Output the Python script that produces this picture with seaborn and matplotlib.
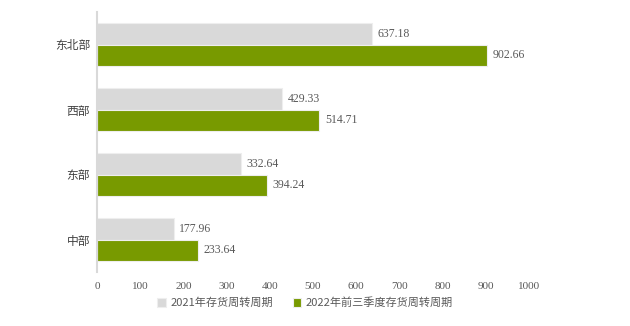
import matplotlib
matplotlib.use("Agg")
import matplotlib.pyplot as plt
import seaborn as sns
import pandas as pd

regions = ["东北部", "西部", "东部", "中部"]
series_names = ["2021年存货周转周期", "2022年前三季度存货周转周期"]
values_2021 = [637.18, 429.33, 332.64, 177.96]
values_2022q3 = [902.66, 514.71, 394.24, 233.64]
x_ticks = [0, 100, 200, 300, 400, 500, 600, 700, 800, 900, 1000]

df = pd.DataFrame({
    "region": regions * 2,
    "series": [series_names[0]] * 4 + [series_names[1]] * 4,
    "value": values_2021 + values_2022q3,
})

sns.set_theme(style="white")
plt.rcParams["font.family"] = ["Noto Sans CJK SC", "DejaVu Sans"]
serif = ["Liberation Serif", "DejaVu Serif"]

fig = plt.figure(figsize=(6.3, 3.26), dpi=100)
ax = fig.add_axes([97 / 630, 1 - 272 / 326, (529 - 97) / 630, (272 - 12) / 326])

palette = {series_names[0]: "#d9d9d9", series_names[1]: "#789a00"}
sns.barplot(data=df, y="region", x="value", hue="series", order=regions,
            hue_order=series_names, palette=palette, orient="h",
            width=0.67, saturation=1, ax=ax, legend=True,
            edgecolor="#eeeeee", linewidth=0.8)

for cont in ax.containers:
    ax.bar_label(cont, fmt="%.2f", padding=4, fontsize=8.5, color="#595959",
                 family=serif)

ax.set_xlim(0, 1000)
ax.set_ylim(3.5, -0.5)
ax.set_xticks(x_ticks)
ax.set_xticklabels([str(t) for t in x_ticks], fontsize=8, color="#595959",
                   family=serif)
ax.tick_params(axis="x", length=0, pad=7)
ax.tick_params(axis="y", length=0, pad=5, labelsize=8.5, labelcolor="#404040")
ax.set_xlabel("")
ax.set_ylabel("")

for side in ["top", "right", "bottom"]:
    ax.spines[side].set_visible(False)
ax.spines["left"].set_color("#d9d9d9")
ax.spines["left"].set_linewidth(1.5)

handles, labels = ax.get_legend_handles_labels()
ax.legend_.remove()
fig.legend(handles, labels, loc="center", bbox_to_anchor=(305 / 630, 1 - 303 / 326),
           ncol=2, frameon=False, fontsize=8, labelcolor="#595959",
           handlelength=0.75, handleheight=0.75, handletextpad=0.4, columnspacing=1.8)

fig.savefig("out.png", dpi=100)
